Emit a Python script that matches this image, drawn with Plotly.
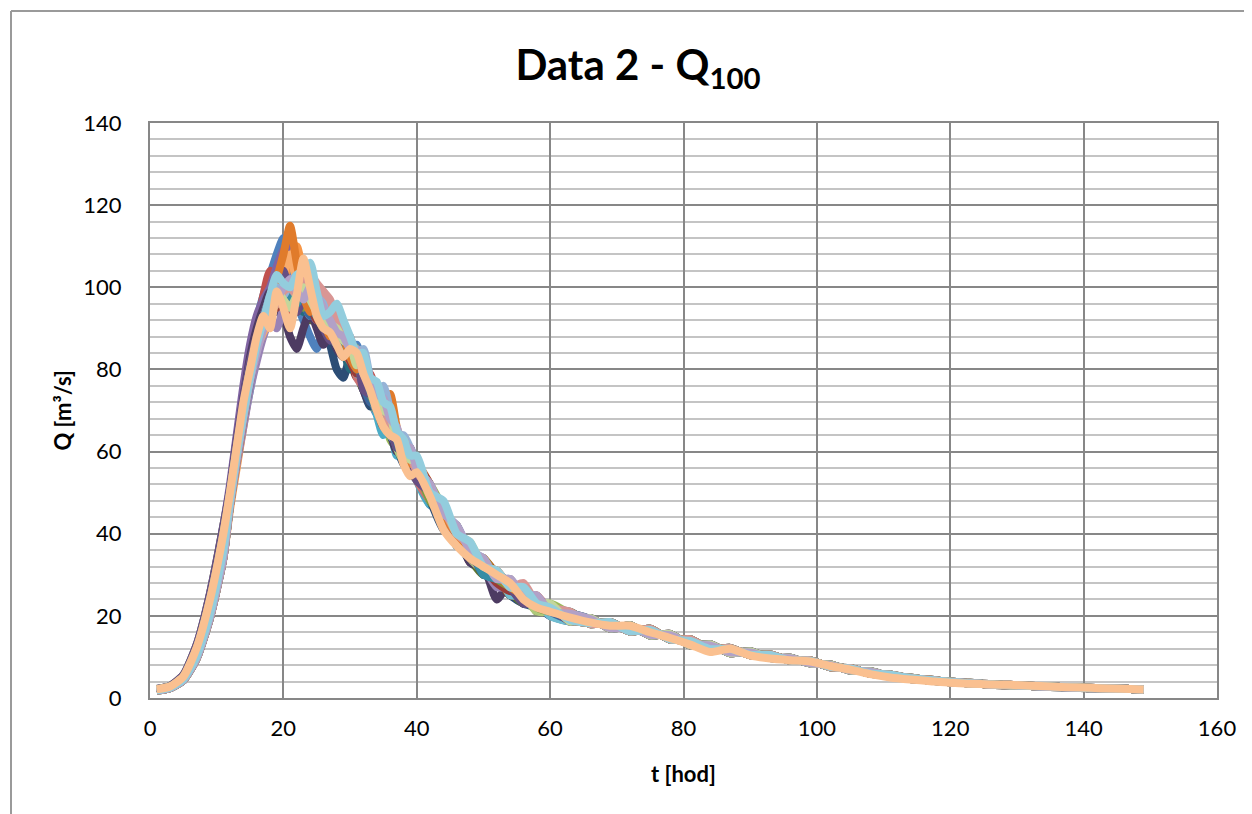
import plotly.graph_objects as go

# time axis [hod]
T = [1, 3, 5, 7, 9, 11,
     12, 13, 14, 15, 16, 17, 18, 19, 20, 21, 22, 23, 24, 25, 26, 27, 28, 29, 30,
     31, 32, 33, 34, 35, 36, 37, 38, 39, 40,
     42, 44, 46, 48, 50, 52, 54, 56, 58, 60,
     63, 66, 69, 72, 75, 78, 81, 84, 87, 90, 93, 96, 99, 102, 105, 108, 111, 114,
     117, 120, 123, 126, 129, 132, 135, 138, 141, 144, 147, 149]

# rising limb (t = 1..11)
RISE_A = [2.0, 2.6, 4.8, 11.0, 22.0, 38.0]
RISE_B = [2.2, 2.9, 5.6, 13.0, 25.5, 42.0]
RISE_C = [1.8, 2.4, 4.3, 9.6, 19.5, 34.0]
RISE_D = [2.1, 2.8, 5.2, 12.2, 24.0, 40.0]
RISE_E = [1.9, 2.5, 4.5, 10.2, 20.5, 36.0]

# peak / falling limb (t = 12..60)
M1 = [50,62,73,84,92,98,103,108,112,104,96,92,88,85,90,94,92,86,82,86,80,73,69,73,68,61,57,61,56,47,46,37,37,30,31,25,26,23,20]
M2 = [49,61,72,82,90,98,104,102,97,93,99,101,95,91,93,89,85,88,88,80,76,79,73,67,68,65,58,61,54,52,42,42,33,34,27,29,23,25,21]
M3 = [51,63,74,81,86,89,93,96,101,97,94,99,98,92,88,91,87,83,86,85,79,72,70,71,63,61,62,55,56,52,46,38,37,30,30,26,27,21,23]
M4 = [52,64,76,86,93,97,100,105,109,110,103,96,92,95,99,94,88,90,86,80,81,76,70,67,68,62,58,57,58,49,42,42,34,34,28,28,23,24,22]
M5 = [47,57,67,75,84,92,96,99,96,100,102,97,94,97,93,88,89,87,81,79,80,76,69,64,65,59,62,59,53,47,46,38,34,33,29,25,27,22,21]
M6 = [46,56,66,76,84,90,94,98,102,106,110,103,97,95,91,92,89,84,84,83,76,73,75,70,64,65,61,56,57,52,44,40,37,31,30,26,24,24,21]
M7 = [48,60,70,79,86,92,95,94,99,101,97,95,98,93,90,86,80,78,83,79,75,71,74,70,64,61,57,55,53,48,41,39,33,31,28,25,23,22,20]
M8 = [49,58,68,77,85,93,97,95,100,98,94,99,100,96,91,89,91,87,83,78,80,77,71,66,69,64,58,56,57,49,46,39,35,34,27,28,24,24,20]
M9 = [47,58,68,78,86,90,94,98,98,95,99,96,92,96,94,88,87,88,85,80,75,78,73,67,64,65,60,56,54,48,44,42,34,30,31,26,23,23,22]
M10 = [50,62,73,83,90,95,99,95,93,88,85,90,94,90,86,89,85,83,87,82,75,72,73,71,65,60,61,58,53,51,42,41,33,32,24,28,26,21,21]
M11 = [48,59,69,79,87,91,96,99,97,101,98,94,97,96,90,91,89,85,80,83,79,73,70,71,67,61,58,60,55,50,46,37,37,32,28,26,27,22,21]
M12 = [48,59,69,78,85,91,95,98,101,99,96,97,99,95,91,90,88,84,85,80,77,77,71,68,65,64,61,57,54,51,43,40,34,34,30,25,25,23,22]
M13 = [49,60,70,80,87,92,98,100,97,95,100,97,93,95,92,89,87,86,83,83,77,73,74,67,66,62,59,57,56,52,42,41,36,31,29,28,24,23,20]
M14 = [48,59,69,78,86,93,97,96,100,97,95,98,101,97,92,90,86,87,86,78,76,78,72,69,64,64,61,58,53,48,45,38,35,33,30,27,26,22,22]
M15 = [50,61,71,80,86,90,94,97,100,101,97,96,98,94,91,92,88,84,86,84,76,73,74,69,68,61,58,59,57,49,46,40,34,31,29,28,25,21,21]
M16 = [47,57,66,75,82,88,92,90,95,100,103,99,95,92,96,94,88,86,84,82,81,75,70,71,65,62,62,56,55,52,43,42,35,32,27,27,25,24,22]
M17 = [48,59,70,79,86,91,95,99,101,98,96,100,97,93,94,90,86,88,83,79,78,74,72,67,64,62,60,59,57,48,45,39,37,32,31,25,25,24,20]
M18 = [49,60,70,79,85,89,92,97,103,108,101,96,99,95,90,91,89,85,82,81,80,77,71,68,68,64,59,56,55,50,46,40,34,34,29,27,24,23,22]
M19 = [50,61,71,80,87,93,97,98,96,99,101,96,93,95,93,89,86,84,84,83,76,72,73,71,66,61,60,57,54,51,42,39,36,30,30,27,23,23,21]
M20 = [48,58,68,77,85,92,96,95,98,97,95,98,96,92,93,91,87,85,82,79,79,76,72,67,66,65,58,58,57,52,45,41,36,32,28,26,26,24,22]
M21 = [49,60,70,79,86,91,94,96,99,101,98,95,97,93,90,90,88,86,85,81,77,74,71,71,64,63,61,56,55,48,44,40,34,34,29,27,25,22,21]
M22 = [51,63,73,82,88,93,96,100,104,98,94,97,99,93,90,87,88,86,84,83,75,74,74,69,66,61,60,59,53,50,45,38,34,32,31,27,23,23,22]
M23 = [47,58,68,77,85,91,95,97,100,98,96,99,96,93,94,89,87,86,83,80,80,75,70,68,68,63,58,57,57,50,46,40,37,30,29,28,25,23,21]
M24 = [47,58,68,78,86,92,96,102,108,115,106,98,94,97,92,88,91,88,83,80,81,77,72,71,74,66,60,57,57,51,44,40,35,33,30,27,25,23,22]
M25 = [49,60,70,79,86,92,97,100,98,101,103,100,99,96,98,95,91,90,87,84,85,78,74,76,70,64,64,61,56,52,45,42,36,34,29,29,25,24,22]
M26 = [48,59,69,78,85,90,94,96,99,100,98,101,103,101,99,97,92,89,86,84,79,78,72,72,66,65,60,59,55,51,46,40,37,32,31,27,28,23,22]
M27 = [50,61,71,80,86,91,96,99,97,95,98,100,97,94,92,91,90,87,86,81,82,76,75,70,69,63,63,58,58,50,47,40,38,32,31,27,26,23,23]
M28 = [47,58,68,77,84,90,95,97,100,102,99,97,100,98,95,92,89,88,85,85,79,78,74,73,68,66,61,61,56,52,45,42,36,34,29,29,25,25,21]
M29 = [48,59,69,78,86,92,98,103,101,100,103,104,106,99,93,94,96,92,88,84,84,78,77,72,71,65,63,59,59,50,48,40,38,32,31,27,27,23,22]
M30 = [50,61,72,80,88,93,90,99,95,90,98,107,100,93,90,89,86,83,85,84,79,75,70,66,64,63,57,54,55,49,41,37,34,32,30,28,24,22,21]

# recession tail (t = 63..149)
TAIL_1 = [21.0,18.0,18.4,16.2,16.9,14.2,14.3,11.8,12.2,10.4,10.6,9.1,9.2,7.5,7.3,5.9,5.7,4.6,4.5,3.8,3.7,3.2,3.1,2.9,2.7,2.6,2.4,2.3,2.2,2.1]
TAIL_2 = [18.6,19.5,16.9,17.7,15.2,15.6,12.8,13.1,10.9,11.4,9.7,9.8,8.4,8.2,6.7,6.5,5.3,5.0,4.2,4.0,3.5,3.4,3.0,3.0,2.8,2.6,2.5,2.3,2.2,2.1]
TAIL_3 = [20.5,19.2,17.0,17.2,15.4,15.3,13.0,12.8,11.1,11.1,9.8,9.7,8.5,8.0,6.8,6.4,5.4,4.9,4.3,3.9,3.6,3.3,3.1,2.9,2.7,2.5,2.4,2.3,2.2,2.1]
TAIL_4 = [19.0,18.2,18.5,16.2,16.6,14.3,13.9,11.9,12.0,10.5,10.5,9.1,9.1,7.6,7.2,6.0,5.7,4.8,4.4,3.9,3.6,3.3,3.2,2.9,2.8,2.6,2.4,2.3,2.2,2.1]
TAIL_5 = [20.2,18.4,17.8,16.4,16.4,14.6,13.7,12.1,11.8,10.6,10.3,9.3,8.9,7.7,7.1,6.1,5.5,4.7,4.3,3.9,3.6,3.3,3.1,2.9,2.8,2.6,2.4,2.3,2.2,2.1]
TAIL_P = [19.6,18.4,17.6,17.6,16.0,14.6,13.0,11.2,12.0,10.4,9.6,9.2,8.9,7.8,6.9,5.8,5.0,4.5,4.1,3.7,3.5,3.3,3.2,3.0,2.8,2.6,2.5,2.3,2.2,2.1]

SERIES = [
    RISE_D + M1 + TAIL_1, RISE_A + M2 + TAIL_2, RISE_B + M3 + TAIL_3,
    RISE_B + M4 + TAIL_4, RISE_C + M5 + TAIL_5, RISE_C + M6 + TAIL_1,
    RISE_E + M7 + TAIL_2, RISE_A + M8 + TAIL_3, RISE_C + M9 + TAIL_4,
    RISE_D + M10 + TAIL_5, RISE_E + M11 + TAIL_1, RISE_E + M12 + TAIL_2,
    RISE_A + M13 + TAIL_3, RISE_E + M14 + TAIL_4, RISE_D + M15 + TAIL_5,
    RISE_C + M16 + TAIL_1, RISE_E + M17 + TAIL_2, RISE_A + M18 + TAIL_3,
    RISE_D + M19 + TAIL_4, RISE_E + M20 + TAIL_5, RISE_A + M21 + TAIL_1,
    RISE_B + M22 + TAIL_2, RISE_C + M23 + TAIL_3, RISE_C + M24 + TAIL_4,
    RISE_A + M25 + TAIL_5, RISE_E + M26 + TAIL_1, RISE_D + M27 + TAIL_2,
    RISE_C + M28 + TAIL_3, RISE_E + M29 + TAIL_4, RISE_D + M30 + TAIL_P,
]

COLORS = ["#4F81BD", "#C0504D", "#9BBB59", "#8064A2", "#4BACC6", "#F79646",
          "#2C4D75", "#772C2A", "#5F7530", "#4D3B62", "#276A7C", "#B65708",
          "#729ACA", "#CD7371", "#AFC97A", "#9983B5", "#6FBDD1", "#F9AB6B",
          "#3A679C", "#9A3B38", "#7E9D40", "#664F83", "#358DA5", "#E07B2B",
          "#95B3D7", "#D99694", "#C3D69B", "#B2A1C7", "#93CDDD", "#FAC090"]

X_TICKS = [0, 20, 40, 60, 80, 100, 120, 140, 160]
Y_TICKS = [0, 20, 40, 60, 80, 100, 120, 140]

FONT = "Lato"
# page body has an 8px margin; figure sized so the plot area lands at 150..1217 x 123..698
W, H = 1244, 806
ML, MR, MT, MB = 142, 35, 115, 116
PW, PH = W - ML - MR, H - MT - MB
OFF = 8

fig = go.Figure()
for i, (ys, c) in enumerate(zip(SERIES, COLORS)):
    fig.add_trace(go.Scatter(x=T, y=ys, mode="lines", name=f"{i+1}",
                             line=dict(color=c, width=8, shape="spline", smoothing=0.6),
                             hoverinfo="skip"))

# outer chart-area border (left and top edges visible)
bx = (11 - OFF - ML) / PW
by = (H - MB - (11 - OFF)) / PH
fig.add_shape(type="line", xref="paper", yref="paper", x0=bx, x1=bx, y0=-0.3, y1=by,
              line=dict(color="#9a9a9a", width=2))
fig.add_shape(type="line", xref="paper", yref="paper", x0=bx, x1=1.1, y0=by, y1=by,
              line=dict(color="#9a9a9a", width=2))

fig.update_layout(
    width=W, height=H,
    margin=dict(l=ML, r=MR, t=MT, b=MB),
    paper_bgcolor="white", plot_bgcolor="white",
    showlegend=False,
    font=dict(family=FONT, color="black", size=22),
    title=dict(text="Data 2 - Q<sub>100</sub>", x=(638 - OFF) / W, xanchor="center",
               xref="container", yref="container", y=1 - (65 - OFF) / H, yanchor="middle",
               font=dict(family=FONT, size=42, color="black", weight="bold")),
    xaxis=dict(range=[0, 160], tickvals=X_TICKS, showgrid=True, gridcolor="#878787", gridwidth=2,
               showline=True, linecolor="#878787", linewidth=2, mirror=True, zeroline=False,
               ticks="", ticklabelstandoff=10, tickfont=dict(size=22, family=FONT)),
    yaxis=dict(range=[0, 140], tickvals=Y_TICKS, showgrid=True, gridcolor="#878787", gridwidth=2,
               showline=True, linecolor="#878787", linewidth=2, mirror=True, zeroline=False,
               ticks="", ticklabelstandoff=22, tickfont=dict(size=22, family=FONT),
               minor=dict(dtick=4, showgrid=True, gridcolor="#c4c4c4", gridwidth=2)),
    annotations=[
        dict(text="t [hod]", xref="paper", yref="paper", x=0.5, y=(H - MB - (773 - OFF)) / PH,
             xanchor="center", yanchor="middle", showarrow=False,
             font=dict(family=FONT, size=22, color="black", weight="bold")),
        dict(text="Q [m³/s]", xref="paper", yref="paper", x=(62 - OFF - ML) / PW, y=0.5,
             xanchor="center", yanchor="middle", showarrow=False, textangle=-90,
             font=dict(family=FONT, size=22, color="black", weight="bold")),
    ],
)

fig.write_html("out.html")
